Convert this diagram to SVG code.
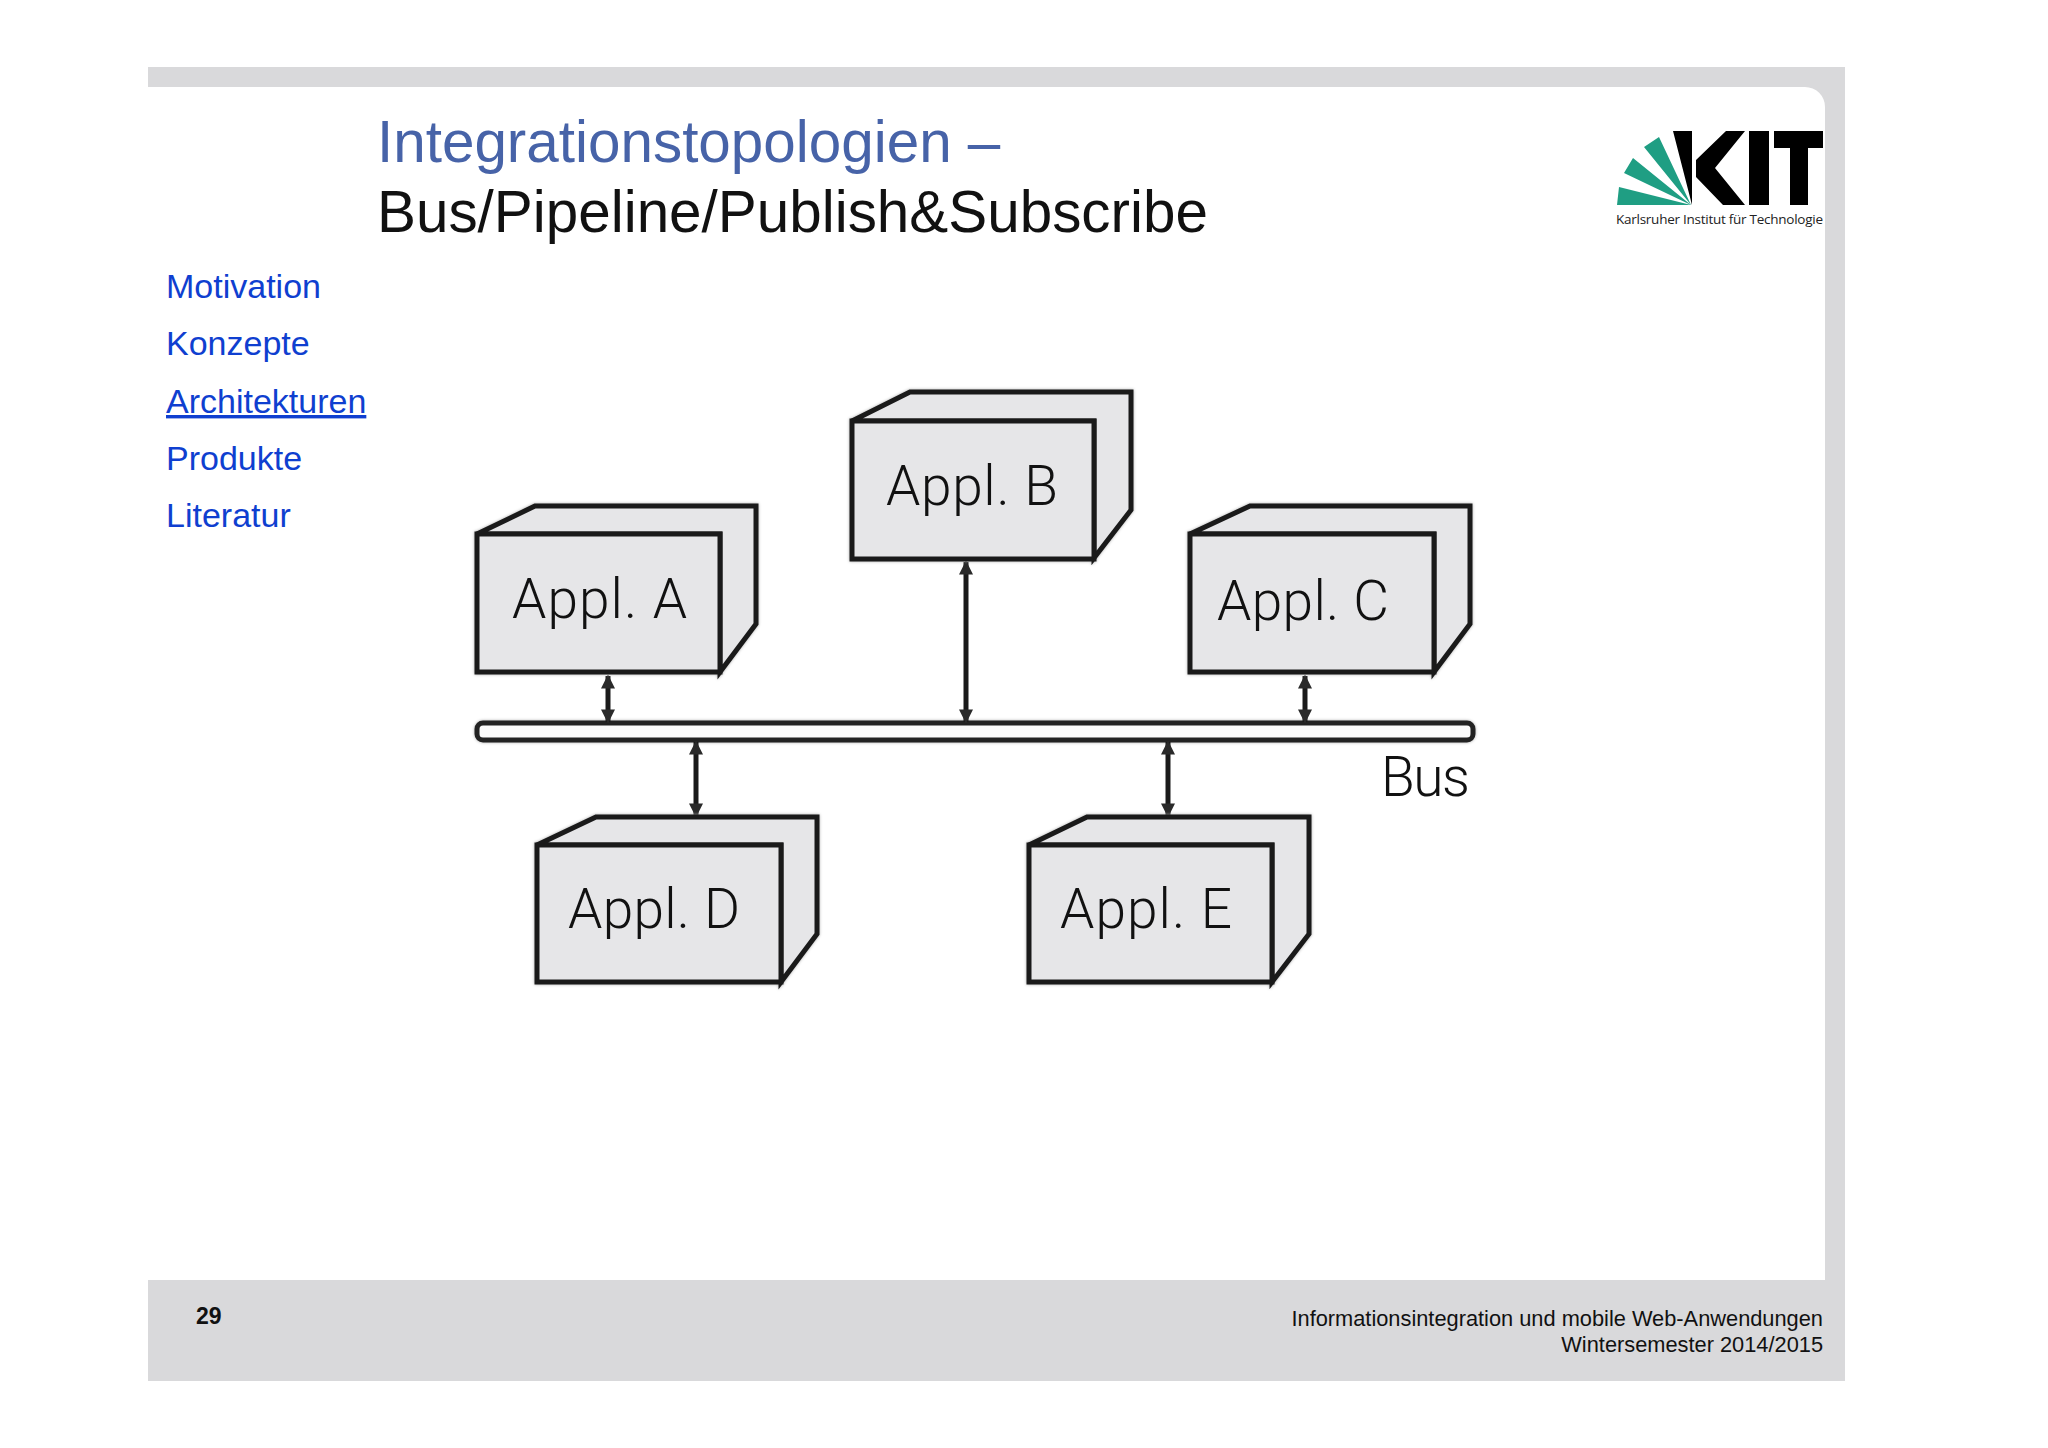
<svg xmlns="http://www.w3.org/2000/svg" width="2048" height="1448" viewBox="0 0 2048 1448">
<style>
.t{font-family:"Liberation Sans",Arial,sans-serif}
.m{font-size:34px;fill:#0f3fd0}
.f{font-size:21.8px;fill:#111;text-anchor:end}
.a{font-size:55px;fill:#111;font-family:Roboto,"Liberation Sans",sans-serif;font-weight:300}
.face{fill:#e6e6e8;stroke:#1a1a1a;stroke-width:5;stroke-linejoin:miter}
.c{stroke:#1a1a1a;stroke-width:5;fill:none;marker-start:url(#h);marker-end:url(#h)}
.n{filter:drop-shadow(0 0 1.5px #aaa)}
</style>
<defs>
<marker id="h" viewBox="0 0 10 10" refX="9" refY="5" markerWidth="3.4" markerHeight="2.8" orient="auto-start-reverse"><path d="M0 0L10 5L0 10Z" fill="#2a2a2a"/></marker>
</defs>
<rect width="2048" height="1448" fill="#fff"/>
<path d="M148 67H1845V1381H148V1280H1825V107a20 20 0 0 0-20-20H148Z" fill="#d9d9db"/>
<text class="t" x="377" y="162" font-size="58.4" fill="#4763a8">Integrationstopologien –</text>
<text class="t" x="377" y="232" font-size="58.4" fill="#111">Bus/Pipeline/Publish&amp;Subscribe</text>
<g id="menu">
<text class="t m" x="166" y="298">Motivation</text>
<text class="t m" x="166" y="355">Konzepte</text>
<text class="t m" x="166" y="413" text-decoration="underline">Architekturen</text>
<text class="t m" x="166" y="470">Produkte</text>
<text class="t m" x="166" y="527">Literatur</text>
</g>
<g id="logo">
<path fill="#1f9e83" d="M1691 205H1617L1619 187ZM1691 205L1624 173L1633 158ZM1691 205L1644 147L1659 137Z"/>
<path fill="#000" d="M1673 131H1692V205ZM1726 131H1745L1715 168L1745 205H1723L1696 177V160ZM1749 131H1769V205H1749ZM1774 131H1823V148H1808V205H1790V148H1774Z"/>
<text x="1616" y="224" font-size="13.5" fill="#222" style="font-family:'Open Sans',sans-serif" textLength="207">Karlsruher Institut für Technologie</text>
</g>
<g id="connectors">
<rect class="n" x="477" y="723" width="996" height="17" rx="6" fill="#fbfbfb" stroke="#222" stroke-width="5"/>
<path class="c" d="M608 676V722"/>
<path class="c" d="M966 562V722"/>
<path class="c" d="M1305 676V722"/>
<path class="c" d="M696 742V816"/>
<path class="c" d="M1168 742V816"/>
</g>
<g id="appl-a" class="n">
<path class="face" d="M477 534L535 506H756V624L720 672V534Z"/><rect class="face" x="477" y="534" width="243" height="138"/>
<text class="a" x="512" y="618" textLength="175">Appl. A</text>
</g>
<g id="appl-b" class="n">
<path class="face" d="M852 421L910 392H1131V510L1094 558V421Z"/><rect class="face" x="852" y="421" width="242" height="138"/>
<text class="a" x="886" y="505" textLength="172">Appl. B</text>
</g>
<g id="appl-c" class="n">
<path class="face" d="M1190 534L1250 506H1470V624L1434 672V534Z"/><rect class="face" x="1190" y="534" width="244" height="138"/>
<text class="a" x="1217" y="620" textLength="172">Appl. C</text>
</g>
<g id="appl-d" class="n">
<path class="face" d="M537 845L596 817H817V934L781 982V845Z"/><rect class="face" x="537" y="845" width="244" height="137"/>
<text class="a" x="568" y="928" textLength="172">Appl. D</text>
</g>
<g id="appl-e" class="n">
<path class="face" d="M1029 845L1087 817H1309V934L1272 982V845Z"/><rect class="face" x="1029" y="845" width="243" height="137"/>
<text class="a" x="1060" y="928" textLength="172">Appl. E</text>
</g>
<text id="bus" class="a" x="1381" y="796" textLength="89">Bus</text>
<g id="footer">
<text class="t" x="196" y="1324" font-size="23" font-weight="bold" fill="#111">29</text>
<text class="t f" x="1823" y="1326">Informationsintegration und mobile Web-Anwendungen</text>
<text class="t f" x="1823" y="1352">Wintersemester 2014/2015</text>
</g>
</svg>
